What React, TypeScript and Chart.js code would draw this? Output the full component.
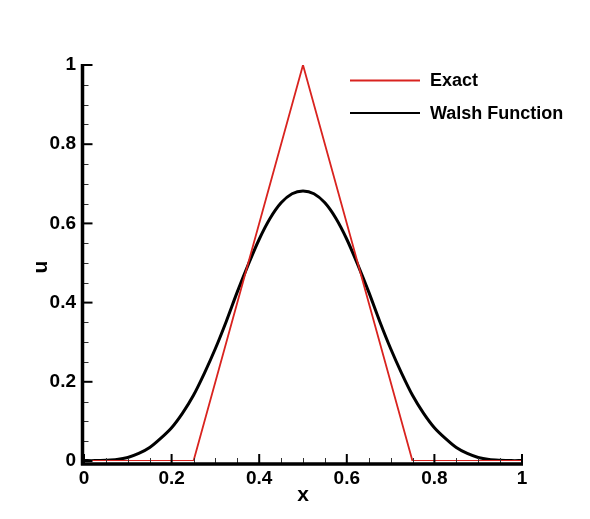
import React, { useEffect, useRef } from "react";
import { Chart, registerables } from "chart.js";

Chart.register(...registerables);

// Sample positions along x
const xValues = [
  0, 0.025, 0.05, 0.075, 0.1, 0.125, 0.15, 0.175, 0.2, 0.225, 0.25, 0.275, 0.3,
  0.325, 0.35, 0.375, 0.4, 0.425, 0.45, 0.475, 0.5, 0.525, 0.55, 0.575, 0.6,
  0.625, 0.65, 0.675, 0.7, 0.725, 0.75, 0.775, 0.8, 0.825, 0.85, 0.875, 0.9,
  0.925, 0.95, 0.975, 1,
];

// Walsh function approximation of u(x)
const walshValues = [
  0.001, 0.001, 0.002, 0.004, 0.009, 0.019, 0.034, 0.057, 0.084, 0.121, 0.166,
  0.222, 0.284, 0.353, 0.427, 0.496, 0.56, 0.613, 0.652, 0.675, 0.682, 0.675,
  0.652, 0.613, 0.56, 0.496, 0.427, 0.353, 0.284, 0.222, 0.166, 0.121, 0.084,
  0.057, 0.034, 0.019, 0.009, 0.004, 0.002, 0.001, 0.001,
];

// Exact solution (hat function) vertices
const exactX = [0, 0.25, 0.5, 0.75, 1];
const exactU = [0, 0, 1, 0, 0];

const majorTicks = [0, 0.2, 0.4, 0.6, 0.8, 1];
const tickLabels = ["0", "0.2", "0.4", "0.6", "0.8", "1"];
const minorStep = 0.05;

const FONT = "Liberation Sans, Arial, Helvetica, sans-serif";

const axesPlugin = {
  id: "tecplotAxes",
  afterDatasetsDraw(chart: any) {
    const ctx = chart.ctx as CanvasRenderingContext2D;
    const xs = chart.scales.x;
    const ys = chart.scales.y;
    const x0 = xs.getPixelForValue(0);
    const x1 = xs.getPixelForValue(1);
    const y0 = ys.getPixelForValue(0);
    const y1 = ys.getPixelForValue(1);
    const axisX = x0 - 1.5;
    const axisY = y0 + 3;
    ctx.save();

    // minor ticks
    ctx.strokeStyle = "#333";
    ctx.lineWidth = 1;
    for (let i = 1; i < 20; i++) {
      const v = i * minorStep;
      if (i % 4 === 0) continue;
      const px = Math.round(xs.getPixelForValue(v)) + 0.5;
      ctx.beginPath();
      ctx.moveTo(px, axisY);
      ctx.lineTo(px, axisY - 6);
      ctx.stroke();
      const py = Math.round(ys.getPixelForValue(v)) + 0.5;
      ctx.beginPath();
      ctx.moveTo(axisX, py);
      ctx.lineTo(axisX + 6, py);
      ctx.stroke();
    }

    // major ticks
    ctx.strokeStyle = "#000";
    ctx.lineWidth = 2;
    majorTicks.forEach((v) => {
      const px = xs.getPixelForValue(v);
      ctx.beginPath();
      ctx.moveTo(px, axisY);
      ctx.lineTo(px, axisY - 10);
      ctx.stroke();
      const py = ys.getPixelForValue(v);
      ctx.beginPath();
      ctx.moveTo(axisX, py);
      ctx.lineTo(axisX + 10, py);
      ctx.stroke();
    });

    // axis lines
    ctx.lineWidth = 3.5;
    ctx.beginPath();
    ctx.moveTo(axisX, y1 - 1);
    ctx.lineTo(axisX, axisY + 1.5);
    ctx.moveTo(axisX - 1.5, axisY);
    ctx.lineTo(x1 + 1, axisY);
    ctx.stroke();

    // tick labels
    ctx.fillStyle = "#000";
    ctx.font = `bold 19px ${FONT}`;
    ctx.textAlign = "center";
    ctx.textBaseline = "middle";
    majorTicks.forEach((v, i) => {
      ctx.fillText(tickLabels[i], xs.getPixelForValue(v), axisY + 15);
    });
    ctx.textAlign = "right";
    majorTicks.forEach((v, i) => {
      ctx.fillText(tickLabels[i], axisX - 6.5, ys.getPixelForValue(v));
    });

    // axis titles
    ctx.font = `bold 21px ${FONT}`;
    ctx.textAlign = "center";
    ctx.fillText("x", (x0 + x1) / 2, axisY + 31);
    ctx.save();
    ctx.translate(axisX - 41, (y0 + y1) / 2 + 4);
    ctx.rotate(-Math.PI / 2);
    ctx.fillText("u", 0, 0);
    ctx.restore();

    // legend
    const items = chart.data.datasets.map((d: any) => ({
      label: d.label,
      color: d.borderColor,
      width: d.borderWidth,
    }));
    ctx.font = `bold 18px ${FONT}`;
    ctx.textAlign = "left";
    items.forEach((it: any, i: number) => {
      const ly = 80.5 + i * 32.5;
      ctx.strokeStyle = it.color;
      ctx.lineWidth = 2;
      ctx.beginPath();
      ctx.moveTo(350, ly);
      ctx.lineTo(420, ly);
      ctx.stroke();
      ctx.fillStyle = "#000";
      ctx.fillText(it.label, 430, ly + 1);
    });

    ctx.restore();
  },
};

export default function App() {
  const canvasRef = useRef<HTMLCanvasElement | null>(null);

  useEffect(() => {
    if (!canvasRef.current) return;
    const chart = new Chart(canvasRef.current, {
      type: "scatter",
      data: {
        datasets: [
          {
            label: "Exact",
            data: exactX.map((x, i) => ({ x, y: exactU[i] })),
            showLine: true,
            borderColor: "#d9231f",
            borderWidth: 1.8,
            pointRadius: 0,
            tension: 0,
          },
          {
            label: "Walsh Function",
            data: xValues.map((x, i) => ({ x, y: walshValues[i] })),
            showLine: true,
            borderColor: "#000000",
            borderWidth: 3,
            pointRadius: 0,
            tension: 0.3,
          },
        ],
      },
      options: {
        animation: false,
        responsive: false,
        layout: { padding: { left: 84, right: 68, top: 65, bottom: 58 } },
        plugins: {
          legend: { display: false },
          tooltip: { enabled: false },
        },
        scales: {
          x: { type: "linear", min: 0, max: 1, display: false },
          y: { type: "linear", min: 0, max: 1, display: false },
        },
      },
      plugins: [axesPlugin],
    });
    return () => chart.destroy();
  }, []);

  return (
    <div
      style={{
        position: "fixed",
        left: 0,
        top: 0,
        width: 590,
        height: 519,
        background: "#fff",
      }}
    >
      <canvas ref={canvasRef} width={590} height={519} />
    </div>
  );
}
